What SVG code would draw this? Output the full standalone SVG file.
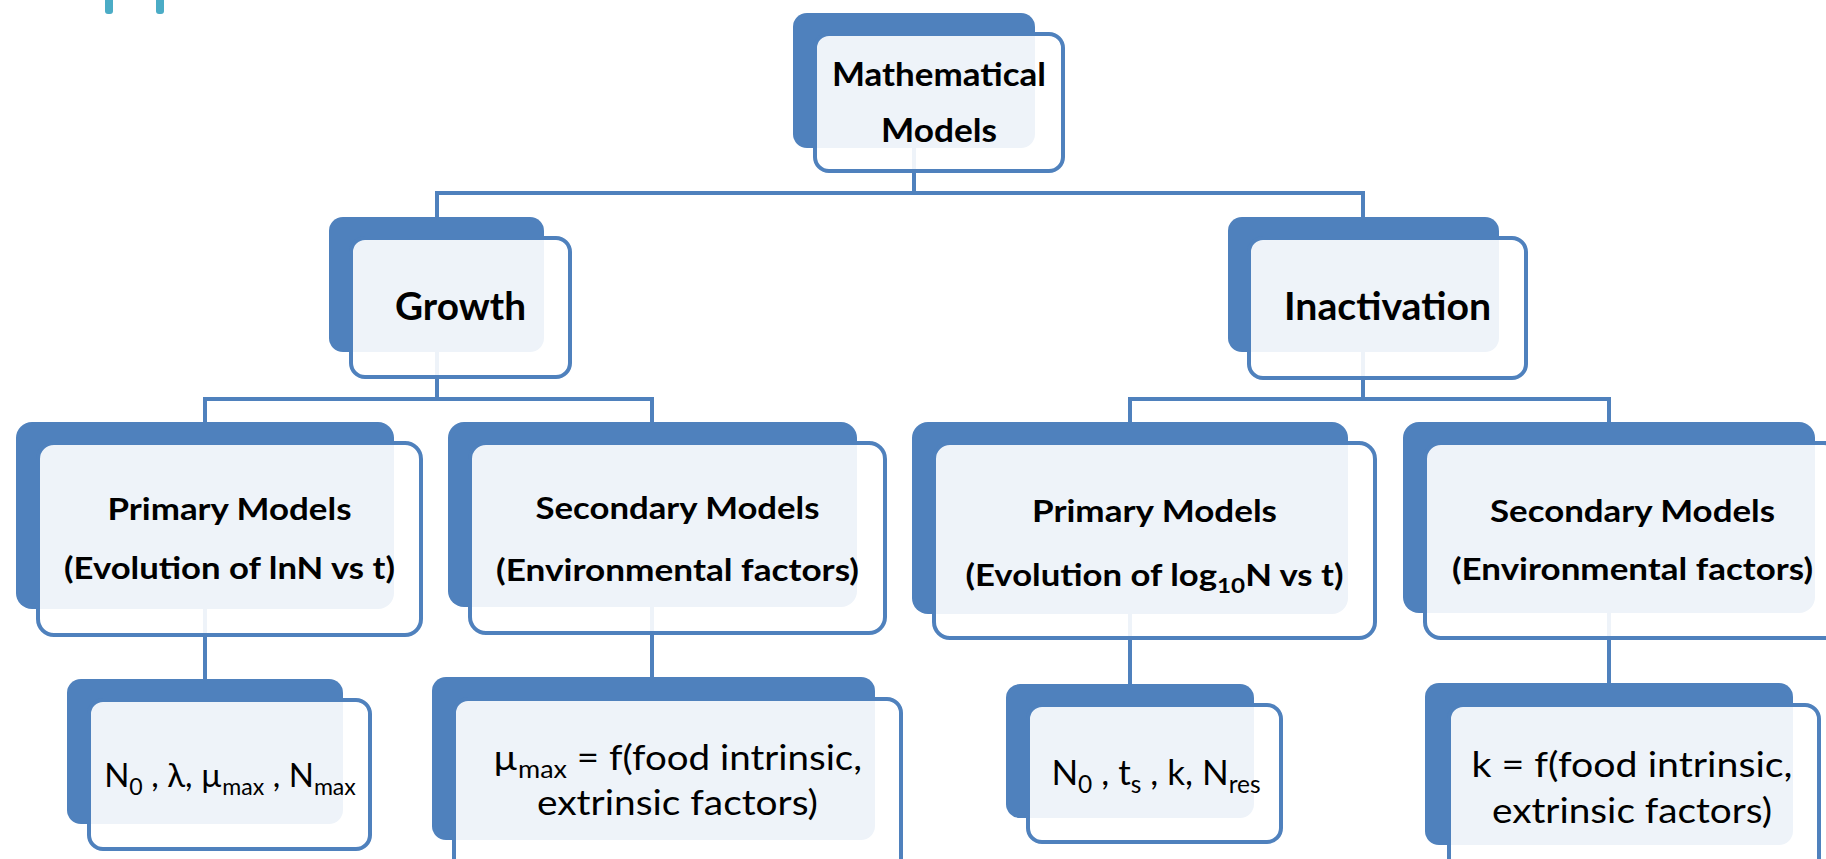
<svg xmlns="http://www.w3.org/2000/svg" width="1826" height="859" viewBox="0 0 1826 859">
<style>
.back{fill:#4F81BD}
.front{fill:#FFFFFF;fill-opacity:0.9;stroke:#4F81BD;stroke-width:4}
.conn{stroke:#4F81BD;stroke-width:4;fill:none}
.b{font-family:Lato,"Open Sans","DejaVu Sans",sans-serif;font-weight:bold;fill:#000;text-anchor:middle}
.r{font-family:Lato,"Open Sans","DejaVu Sans",sans-serif;font-weight:normal;fill:#000;text-anchor:middle}
.sub{font-size:70%}
</style>
<rect x="105" y="-6" width="8" height="20" rx="3" fill="#4BACC6"/>
<rect x="156" y="-6" width="8" height="20" rx="3" fill="#4BACC6"/>
<g id="connectors">
<path class="conn" d="M914 148V193M437 193H1363M437 191V217M1363 191V217"/>
<path class="conn" d="M437 352V399M205 399H652M205 397V422M652 397V422"/>
<path class="conn" d="M1363 352V399M1130 399H1609M1130 397V422M1609 397V422"/>
<path class="conn" d="M205 609V679M652 607V677M1130 614V684M1609 613V683"/>
</g>
<g id="n-math">
<rect class="back" x="793" y="13" width="242" height="135" rx="14"/>
<rect class="front" x="815" y="34" width="248" height="137" rx="14"/>
<text class="b" font-size="33" x="939" y="86" textLength="214" lengthAdjust="spacingAndGlyphs">Mathematical</text>
<text class="b" font-size="33" x="939" y="142" textLength="116" lengthAdjust="spacingAndGlyphs">Models</text>
</g>
<g id="n-growth">
<rect class="back" x="329" y="217" width="215" height="135" rx="14"/>
<rect class="front" x="351" y="238" width="219" height="139" rx="14"/>
<text class="b" font-size="39" x="460.5" y="320" textLength="131" lengthAdjust="spacingAndGlyphs">Growth</text>
</g>
<g id="n-inact">
<rect class="back" x="1228" y="217" width="271" height="135" rx="14"/>
<rect class="front" x="1249" y="238" width="277" height="140" rx="14"/>
<text class="b" font-size="39" x="1387.5" y="320" textLength="207" lengthAdjust="spacingAndGlyphs">Inactivation</text>
</g>
<g id="n-gprim">
<rect class="back" x="16" y="422" width="378" height="187" rx="16"/>
<rect class="front" x="38" y="443" width="383" height="192" rx="16"/>
<text class="b" font-size="31" x="229.5" y="520" textLength="244" lengthAdjust="spacingAndGlyphs">Primary Models</text>
<text class="b" font-size="31" x="229.5" y="579" textLength="331" lengthAdjust="spacingAndGlyphs">(Evolution of lnN vs t)</text>
</g>
<g id="n-gsec">
<rect class="back" x="448" y="422" width="409" height="185" rx="16"/>
<rect class="front" x="470" y="443" width="415" height="190" rx="16"/>
<text class="b" font-size="31" x="677.5" y="519" textLength="284" lengthAdjust="spacingAndGlyphs">Secondary Models</text>
<text class="b" font-size="31" x="677.5" y="581" textLength="363" lengthAdjust="spacingAndGlyphs">(Environmental factors)</text>
</g>
<g id="n-iprim">
<rect class="back" x="912" y="422" width="436" height="192" rx="16"/>
<rect class="front" x="934" y="443" width="441" height="195" rx="16"/>
<text class="b" font-size="31" x="1154.5" y="522" textLength="245" lengthAdjust="spacingAndGlyphs">Primary Models</text>
<text class="b" font-size="31" x="1154.5" y="586" textLength="378" lengthAdjust="spacingAndGlyphs">(Evolution of log<tspan class="sub" dy="7">10</tspan><tspan dy="-7">N vs t)</tspan></text>
</g>
<g id="n-isec">
<rect class="back" x="1403" y="422" width="412" height="191" rx="16"/>
<rect class="front" x="1425" y="443" width="415" height="195" rx="16"/>
<text class="b" font-size="31" x="1632.5" y="522" textLength="285" lengthAdjust="spacingAndGlyphs">Secondary Models</text>
<text class="b" font-size="31" x="1632.5" y="580" textLength="361" lengthAdjust="spacingAndGlyphs">(Environmental factors)</text>
</g>
<g id="n-gpar">
<rect class="back" x="67" y="679" width="276" height="145" rx="14"/>
<rect class="front" x="89" y="700" width="281" height="149" rx="14"/>
<text class="r" font-size="33" x="230" y="787">N<tspan class="sub" dy="8">0</tspan><tspan dy="-8"> , λ, µ</tspan><tspan class="sub" dy="8">max</tspan><tspan dy="-8"> , N</tspan><tspan class="sub" dy="8">max</tspan></text>
</g>
<g id="n-gfun">
<rect class="back" x="432" y="677" width="443" height="163" rx="14"/>
<rect class="front" x="454" y="699" width="447" height="180" rx="14"/>
<text class="r" font-size="35" x="677.5" y="770" textLength="369" lengthAdjust="spacingAndGlyphs">µ<tspan class="sub" dy="8">max</tspan><tspan dy="-8"> = f(food intrinsic,</tspan></text>
<text class="r" font-size="35" x="677.5" y="815" textLength="281" lengthAdjust="spacingAndGlyphs">extrinsic factors)</text>
</g>
<g id="n-ipar">
<rect class="back" x="1006" y="684" width="248" height="134" rx="14"/>
<rect class="front" x="1028" y="705" width="253" height="137" rx="14"/>
<text class="r" font-size="35" x="1156" y="785">N<tspan class="sub" dy="8">0</tspan><tspan dy="-8"> , t</tspan><tspan class="sub" dy="8">s</tspan><tspan dy="-8"> , k, N</tspan><tspan class="sub" dy="8">res</tspan></text>
</g>
<g id="n-ifun">
<rect class="back" x="1425" y="683" width="368" height="162" rx="14"/>
<rect class="front" x="1449" y="705" width="370" height="180" rx="14"/>
<text class="r" font-size="35" x="1632" y="777" textLength="321" lengthAdjust="spacingAndGlyphs">k = f(food intrinsic,</text>
<text class="r" font-size="35" x="1632" y="823" textLength="280" lengthAdjust="spacingAndGlyphs">extrinsic factors)</text>
</g>
</svg>
